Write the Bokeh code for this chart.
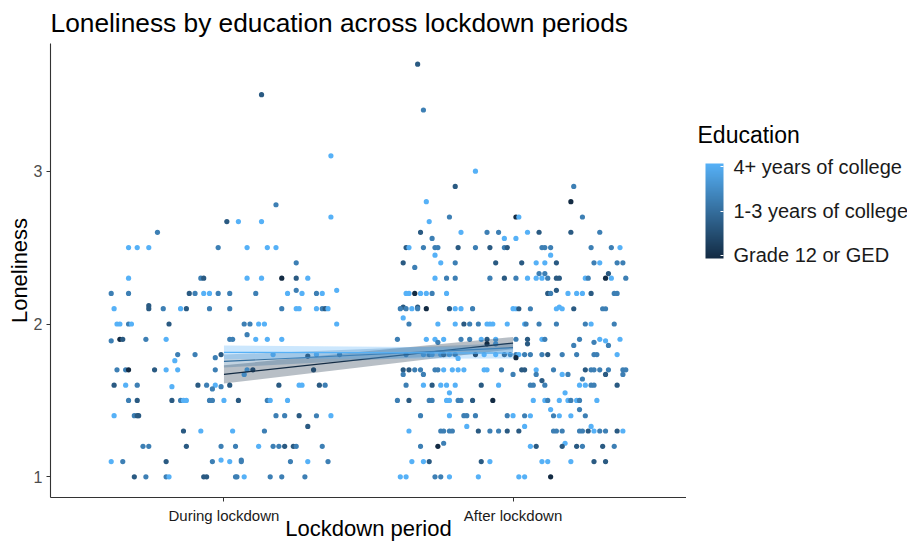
from bokeh.plotting import figure
from bokeh.layouts import row
from bokeh.models import LinearColorMapper, ColorBar, FixedTicker, ColumnDataSource, Label
from bokeh.transform import transform
from bokeh.embed import file_html
from bokeh.resources import INLINE

# ---------------- data ----------------
period_ticks = [1, 2]
period_labels = ["During lockdown", "After lockdown"]

edu_levels = [2, 3, 4]
edu_labels = ["Grade 12 or GED", "1-3 years of college", "4+ years of college"]
# education value of each point shade
shade_value = {"D": 2.0, "K": 2.7, "M": 3.25, "L": 4.0}

# (jittered period position, loneliness, education shade)
during_points = [
    (1.13, 3.50, "K"), (1.37, 3.10, "L"), (1.18, 2.78, "M"), (1.37, 2.70, "L"),
    (1.01, 2.67, "K"), (1.05, 2.67, "L"), (1.13, 2.67, "L"), (0.77, 2.60, "M"),
    (0.67, 2.5, "L"), (0.70, 2.5, "L"), (0.74, 2.5, "L"), (0.98, 2.5, "M"), (1.08, 2.5, "L"), (1.15, 2.5, "L"), (1.18, 2.5, "L"),
    (1.25, 2.4, "M"),
    (0.67, 2.3, "L"), (0.92, 2.3, "M"), (0.93, 2.3, "K"), (1.08, 2.3, "L"), (1.13, 2.3, "L"), (1.20, 2.3, "D"), (1.25, 2.3, "K"), (1.29, 2.3, "L"),
    (1.25, 2.22, "M"), (1.39, 2.22, "L"),
    (0.61, 2.2, "M"), (0.67, 2.2, "M"), (0.88, 2.2, "K"), (0.90, 2.2, "M"), (0.93, 2.2, "L"), (0.95, 2.2, "L"), (0.98, 2.2, "M"),
    (1.02, 2.2, "M"), (1.11, 2.2, "M"), (1.22, 2.2, "L"), (1.27, 2.2, "L"), (1.32, 2.2, "M"), (1.34, 2.2, "L"),
    (0.74, 2.12, "K"),
    (0.62, 2.1, "L"), (0.74, 2.1, "K"), (0.79, 2.1, "M"), (0.85, 2.1, "L"), (0.87, 2.1, "K"), (0.95, 2.1, "M"), (1.02, 2.1, "M"),
    (1.20, 2.1, "M"), (1.25, 2.1, "L"), (1.26, 2.1, "L"), (1.32, 2.1, "L"), (1.34, 2.1, "M"), (1.35, 2.1, "K"), (1.36, 2.1, "L"),
    (0.63, 2.0, "L"), (0.64, 2.0, "L"), (0.67, 2.0, "M"), (0.68, 2.0, "L"), (0.81, 2.0, "K"), (1.07, 2.0, "M"), (1.09, 2.0, "M"),
    (1.12, 2.0, "L"), (1.14, 2.0, "L"), (1.39, 2.0, "L"),
    (1.08, 1.93, "M"),
    (0.64, 1.9, "D"), (0.65, 1.9, "K"), (0.73, 1.9, "M"), (0.80, 1.9, "L"), (1.02, 1.9, "M"), (1.03, 1.9, "M"), (1.11, 1.9, "L"),
    (1.15, 1.9, "L"), (1.20, 1.9, "L"),
    (0.61, 1.89, "M"),
    (0.84, 1.8, "M"), (0.90, 1.8, "M"), (0.99, 1.8, "K"), (1.17, 1.8, "L"), (1.32, 1.8, "L"), (1.40, 1.8, "M"),
    (1.29, 1.79, "D"), (0.97, 1.78, "M"), (0.83, 1.76, "L"),
    (0.63, 1.7, "M"), (0.66, 1.7, "M"), (0.67, 1.7, "D"), (0.76, 1.7, "K"), (0.80, 1.7, "L"), (0.84, 1.7, "L"), (0.97, 1.7, "M"),
    (1.08, 1.7, "L"), (1.10, 1.7, "K"), (1.31, 1.7, "K"),
    (1.07, 1.67, "L"),
    (0.62, 1.6, "K"), (0.66, 1.6, "L"), (0.70, 1.6, "M"), (0.91, 1.6, "K"), (0.94, 1.6, "M"), (0.97, 1.6, "L"), (1.02, 1.6, "K"),
    (1.19, 1.6, "K"), (1.26, 1.6, "L"), (1.27, 1.6, "L"), (1.33, 1.6, "K"), (1.35, 1.6, "M"),
    (0.82, 1.59, "L"), (0.99, 1.59, "M"), (0.96, 1.575, "M"),
    (0.67, 1.5, "M"), (0.70, 1.5, "K"), (0.82, 1.5, "K"), (0.85, 1.5, "M"), (0.86, 1.5, "L"), (0.87, 1.5, "L"), (0.95, 1.5, "M"),
    (0.96, 1.5, "M"), (1.00, 1.5, "L"), (1.05, 1.5, "K"), (1.15, 1.5, "M"), (1.16, 1.5, "L"), (1.22, 1.5, "L"),
    (0.62, 1.4, "L"), (0.69, 1.4, "M"), (0.70, 1.4, "K"), (0.705, 1.4, "K"), (1.18, 1.4, "M"), (1.21, 1.4, "M"), (1.26, 1.4, "K"),
    (1.32, 1.4, "M"), (1.37, 1.4, "L"),
    (1.29, 1.33, "K"),
    (0.86, 1.3, "K"), (0.92, 1.3, "L"), (1.03, 1.3, "L"), (1.14, 1.3, "M"),
    (0.72, 1.2, "M"), (0.74, 1.2, "M"), (0.87, 1.2, "K"), (0.99, 1.2, "M"), (1.04, 1.2, "M"), (1.12, 1.2, "L"), (1.17, 1.2, "M"),
    (1.19, 1.2, "M"), (1.21, 1.2, "K"), (1.24, 1.2, "K"), (1.25, 1.2, "M"), (1.34, 1.2, "M"),
    (0.99, 1.11, "L"), (1.06, 1.11, "M"),
    (0.61, 1.1, "L"), (0.65, 1.1, "M"), (0.80, 1.1, "K"), (0.96, 1.1, "M"), (1.02, 1.1, "L"), (1.06, 1.1, "M"), (1.23, 1.1, "M"),
    (1.29, 1.1, "L"), (1.36, 1.1, "M"),
    (0.69, 1.0, "K"), (0.73, 1.0, "M"), (0.80, 1.0, "M"), (0.81, 1.0, "L"), (0.93, 1.0, "K"), (0.94, 1.0, "K"), (1.04, 1.0, "M"),
    (1.045, 1.0, "M"), (1.07, 1.0, "L"), (1.16, 1.0, "M"), (1.20, 1.0, "M"), (1.28, 1.0, "M"),
]

after_points = [
    (1.67, 3.70, "K"), (1.69, 3.40, "M"), (1.87, 3.00, "L"), (1.80, 2.90, "K"), (2.21, 2.90, "M"),
    (1.70, 2.80, "L"), (2.20, 2.80, "D"),
    (1.78, 2.70, "M"), (2.01, 2.70, "D"), (2.02, 2.70, "L"), (2.24, 2.70, "M"), (1.71, 2.67, "L"),
    (1.68, 2.6, "K"), (1.82, 2.6, "L"), (1.91, 2.6, "M"), (1.95, 2.6, "M"), (2.05, 2.6, "L"), (2.09, 2.6, "K"), (2.20, 2.6, "K"), (2.30, 2.6, "M"),
    (1.72, 2.56, "M"), (1.97, 2.56, "L"), (2.01, 2.56, "L"),
    (1.63, 2.5, "K"), (1.64, 2.5, "L"), (1.69, 2.5, "M"), (1.73, 2.5, "M"), (1.74, 2.5, "M"), (1.81, 2.5, "K"), (1.87, 2.5, "M"),
    (1.92, 2.5, "K"), (1.97, 2.5, "M"), (1.98, 2.5, "K"), (2.10, 2.5, "M"), (2.11, 2.5, "M"), (2.13, 2.5, "M"), (2.27, 2.5, "M"),
    (2.34, 2.5, "M"), (2.37, 2.5, "L"),
    (1.73, 2.45, "L"), (2.13, 2.45, "L"),
    (1.62, 2.4, "K"), (1.75, 2.4, "L"), (1.80, 2.4, "M"), (1.94, 2.4, "K"), (2.03, 2.4, "K"), (2.08, 2.4, "L"), (2.11, 2.4, "L"),
    (2.15, 2.4, "K"), (2.28, 2.4, "M"), (2.30, 2.4, "L"), (2.36, 2.4, "M"), (2.38, 2.4, "M"),
    (1.66, 2.37, "M"), (2.09, 2.33, "M"), (2.11, 2.33, "M"), (2.33, 2.33, "K"),
    (1.73, 2.3, "L"), (1.77, 2.3, "M"), (1.80, 2.3, "M"), (1.92, 2.3, "M"), (1.97, 2.3, "K"), (2.01, 2.3, "M"), (2.05, 2.3, "L"),
    (2.08, 2.3, "L"), (2.10, 2.3, "L"), (2.12, 2.3, "M"), (2.15, 2.3, "K"), (2.16, 2.3, "K"), (2.25, 2.3, "L"), (2.26, 2.3, "M"),
    (2.32, 2.3, "D"), (2.34, 2.3, "L"), (2.39, 2.3, "M"),
    (2.15, 2.22, "K"),
    (1.63, 2.2, "L"), (1.64, 2.2, "L"), (1.66, 2.2, "D"), (1.68, 2.2, "L"), (1.70, 2.2, "L"), (1.72, 2.2, "M"), (1.77, 2.2, "L"),
    (2.12, 2.2, "K"), (2.13, 2.2, "M"), (2.19, 2.2, "L"), (2.22, 2.2, "L"), (2.24, 2.2, "L"), (2.27, 2.2, "K"), (2.35, 2.2, "M"), (2.36, 2.2, "M"),
    (1.62, 2.11, "K"), (1.67, 2.11, "K"), (2.16, 2.11, "L"),
    (1.61, 2.1, "M"), (1.63, 2.1, "M"), (1.65, 2.1, "L"), (1.67, 2.1, "M"), (1.70, 2.1, "D"), (1.78, 2.1, "K"), (1.80, 2.1, "L"),
    (1.82, 2.1, "L"), (1.86, 2.1, "M"), (2.00, 2.1, "L"), (2.01, 2.1, "L"), (2.02, 2.1, "K"), (2.06, 2.1, "M"), (2.15, 2.1, "L"),
    (2.17, 2.1, "L"), (2.21, 2.1, "K"), (2.31, 2.1, "M"), (2.32, 2.1, "M"),
    (1.62, 2.04, "L"),
    (1.64, 2.0, "M"), (1.74, 2.0, "L"), (1.80, 2.0, "L"), (1.83, 2.0, "K"), (1.85, 2.0, "M"), (1.88, 2.0, "M"), (1.91, 2.0, "L"),
    (1.92, 2.0, "L"), (1.93, 2.0, "L"), (1.98, 2.0, "L"), (2.04, 2.0, "L"), (2.045, 2.0, "M"), (2.09, 2.0, "M"), (2.15, 2.0, "M"),
    (2.25, 2.0, "M"), (2.27, 2.0, "L"), (2.35, 2.0, "M"),
    (1.60, 1.9, "M"), (1.70, 1.9, "L"), (1.73, 1.9, "L"), (1.76, 1.9, "L"), (1.82, 1.9, "M"), (1.85, 1.9, "M"), (1.89, 1.9, "L"),
    (1.91, 1.9, "K"), (1.94, 1.9, "L"), (2.01, 1.9, "M"), (2.05, 1.9, "K"), (2.10, 1.9, "L"), (2.11, 1.9, "M"), (2.23, 1.9, "M"),
    (2.30, 1.9, "L"), (2.37, 1.9, "L"),
    (1.74, 1.88, "M"), (2.28, 1.88, "M"), (2.32, 1.89, "L"), (1.91, 1.87, "D"), (1.94, 1.87, "L"), (2.05, 1.87, "K"),
    (2.21, 1.86, "M"), (2.33, 1.86, "M"),
    (1.63, 1.8, "M"), (1.69, 1.8, "L"), (1.71, 1.8, "M"), (1.72, 1.8, "L"), (1.75, 1.8, "L"), (1.76, 1.8, "K"), (1.78, 1.8, "L"),
    (1.80, 1.8, "M"), (1.87, 1.8, "D"), (1.90, 1.8, "L"), (1.94, 1.8, "L"), (1.97, 1.8, "K"), (1.99, 1.8, "M"), (2.01, 1.8, "M"),
    (2.02, 1.8, "L"), (2.04, 1.8, "M"), (2.06, 1.8, "M"), (2.10, 1.8, "M"), (2.12, 1.8, "K"), (2.17, 1.8, "M"), (2.22, 1.8, "M"),
    (2.28, 1.8, "M"), (2.29, 1.8, "M"), (2.36, 1.8, "L"),
    (2.01, 1.78, "D"), (1.81, 1.775, "L"),
    (1.62, 1.7, "K"), (1.64, 1.7, "K"), (1.66, 1.7, "M"), (1.68, 1.7, "M"), (1.73, 1.7, "M"), (1.74, 1.7, "M"), (1.76, 1.7, "L"),
    (1.79, 1.7, "L"), (1.81, 1.7, "L"), (1.83, 1.7, "L"), (1.90, 1.7, "L"), (1.91, 1.7, "L"), (1.96, 1.7, "M"), (2.03, 1.7, "K"),
    (2.04, 1.7, "K"), (2.08, 1.7, "L"), (2.14, 1.7, "M"), (2.25, 1.7, "K"), (2.27, 1.7, "M"), (2.28, 1.7, "M"), (2.30, 1.7, "M"),
    (2.33, 1.7, "M"), (2.38, 1.7, "M"), (2.39, 1.7, "M"),
    (1.62, 1.67, "M"), (1.69, 1.67, "M"), (2.00, 1.67, "M"), (2.08, 1.67, "M"), (2.17, 1.67, "L"), (2.19, 1.67, "M"),
    (2.32, 1.67, "K"), (2.38, 1.67, "M"), (2.24, 1.64, "M"), (2.10, 1.63, "K"),
    (1.63, 1.6, "M"), (1.69, 1.6, "L"), (1.72, 1.6, "K"), (1.75, 1.6, "L"), (1.77, 1.6, "L"), (1.80, 1.6, "L"), (1.89, 1.6, "K"),
    (1.95, 1.6, "L"), (2.06, 1.6, "M"), (2.07, 1.6, "M"), (2.11, 1.6, "M"), (2.23, 1.6, "L"), (2.25, 1.6, "L"), (2.27, 1.6, "M"),
    (2.28, 1.6, "M"), (2.36, 1.6, "K"),
    (1.78, 1.55, "L"), (2.18, 1.55, "L"),
    (1.60, 1.5, "M"), (1.64, 1.5, "K"), (1.71, 1.5, "M"), (1.72, 1.5, "M"), (1.77, 1.5, "L"), (1.78, 1.5, "L"), (1.81, 1.5, "M"),
    (1.82, 1.5, "M"), (1.86, 1.5, "K"), (1.93, 1.5, "D"), (2.07, 1.5, "L"), (2.11, 1.5, "L"), (2.12, 1.5, "M"), (2.16, 1.5, "L"),
    (2.19, 1.5, "L"), (2.20, 1.5, "M"), (2.22, 1.5, "L"), (2.23, 1.5, "M"), (2.29, 1.5, "L"),
    (2.13, 1.44, "L"), (2.23, 1.44, "M"),
    (1.68, 1.4, "M"), (1.78, 1.4, "L"), (1.83, 1.4, "M"), (1.84, 1.4, "M"), (1.87, 1.4, "M"), (1.98, 1.4, "M"), (2.00, 1.4, "L"),
    (2.04, 1.4, "M"), (2.06, 1.4, "L"), (2.14, 1.4, "M"), (2.16, 1.4, "L"), (2.20, 1.4, "L"), (2.25, 1.4, "M"),
    (1.84, 1.33, "L"), (2.04, 1.33, "L"), (2.27, 1.33, "L"),
    (1.64, 1.3, "L"), (1.75, 1.3, "M"), (1.76, 1.3, "M"), (1.78, 1.3, "M"), (1.79, 1.3, "M"), (1.88, 1.3, "K"), (1.92, 1.3, "M"),
    (1.95, 1.3, "M"), (1.98, 1.3, "K"), (2.02, 1.3, "K"), (2.14, 1.3, "M"), (2.15, 1.3, "M"), (2.17, 1.3, "M"), (2.23, 1.3, "M"),
    (2.24, 1.3, "M"), (2.26, 1.3, "K"), (2.28, 1.3, "L"), (2.30, 1.3, "M"), (2.32, 1.3, "M"), (2.36, 1.3, "K"), (2.38, 1.3, "L"),
    (1.76, 1.22, "M"), (2.18, 1.22, "L"),
    (1.68, 1.2, "M"), (1.74, 1.2, "D"), (2.06, 1.2, "L"), (2.08, 1.2, "K"), (2.17, 1.2, "K"), (2.22, 1.2, "K"), (2.24, 1.2, "M"),
    (2.31, 1.2, "K"), (2.35, 1.2, "M"),
    (1.65, 1.1, "L"), (1.69, 1.1, "L"), (1.71, 1.1, "K"), (1.89, 1.1, "K"), (1.92, 1.1, "L"), (2.10, 1.1, "L"), (2.12, 1.1, "L"),
    (2.20, 1.1, "L"), (2.28, 1.1, "K"), (2.32, 1.1, "K"),
    (1.61, 1.0, "L"), (1.63, 1.0, "L"), (1.73, 1.0, "M"), (1.75, 1.0, "M"), (1.78, 1.0, "L"), (1.88, 1.0, "L"), (2.02, 1.0, "L"),
    (2.04, 1.0, "L"), (2.13, 1.0, "D"),
]

# linear fits by education group (at During = 1, After = 2)
fit_x = [1, 2]
grade12_fit = [1.67, 1.875]
grade12_lo = [1.61, 1.835]
grade12_hi = [1.73, 1.915]
college13_fit = [1.755, 1.845]
college13_lo = [1.715, 1.815]
college13_hi = [1.80, 1.875]
college4_fit = [1.815, 1.81]
college4_lo = [1.77, 1.775]
college4_hi = [1.86, 1.845]

legend_title = "Education"

# ---------------- styling helpers ----------------
FONT = "Liberation Sans"
LOW_RGB = (0x13, 0x2B, 0x43)
HIGH_RGB = (0x56, 0xB1, 0xF7)
X_RANGE = (0.4, 2.6)
Y_RANGE = (0.865, 3.835)
MAIN_W, LEG_W, H = 686, 221, 543
FRAME_TOP, FRAME_BOTTOM = 43, 497


def grad(t):
    t = min(max(t, 0.0), 1.0)
    r = round(LOW_RGB[0] + (HIGH_RGB[0] - LOW_RGB[0]) * t)
    g = round(LOW_RGB[1] + (HIGH_RGB[1] - LOW_RGB[1]) * t)
    b = round(LOW_RGB[2] + (HIGH_RGB[2] - LOW_RGB[2]) * t)
    return "#%02x%02x%02x" % (r, g, b)


palette = [grad(i / 255) for i in range(256)]
edu_low, edu_high = edu_levels[0], edu_levels[-1]
mapper = LinearColorMapper(palette=palette, low=edu_low, high=edu_high)
# colour bar drawn a touch past the end breaks, like ggplot's guide
bar_mapper = LinearColorMapper(palette=palette, low=edu_low - 0.07, high=edu_high + 0.07)


def edu_color(v):
    return grad((v - edu_low) / (edu_high - edu_low))


pts = during_points + after_points
src = ColumnDataSource(dict(
    x=[q[0] for q in pts],
    y=[q[1] for q in pts],
    edu=[shade_value[q[2]] for q in pts],
))

# ---------------- main panel ----------------
p = figure(width=MAIN_W, height=H, x_range=X_RANGE, y_range=Y_RANGE,
           output_backend="svg", toolbar_location=None,
           min_border_left=50, min_border_right=0, min_border_top=FRAME_TOP, min_border_bottom=10)

p.title.text = "Loneliness by education across lockdown periods"
p.title.text_font = FONT
p.title.text_font_size = "26.3px"
p.title.text_font_style = "normal"
p.title.text_color = "#000000"
p.title.align = "left"
p.title.standoff = 11

p.scatter("x", "y", source=src, size=5.2, fill_color=transform("edu", mapper), line_color=None)

groups = [
    (edu_levels[0], grade12_fit, grade12_lo, grade12_hi),
    (edu_levels[1], college13_fit, college13_lo, college13_hi),
    (edu_levels[2], college4_fit, college4_lo, college4_hi),
]
for lvl, fit, lo, hi in groups:
    c = edu_color(lvl)
    p.varea(x=fit_x, y1=lo, y2=hi, fill_color=c, fill_alpha=0.3)
    p.line(x=fit_x, y=fit, line_color=c, line_width=1.2)

p.xgrid.grid_line_color = None
p.ygrid.grid_line_color = None
p.outline_line_color = None
p.background_fill_color = "white"

p.xaxis.ticker = FixedTicker(ticks=period_ticks)
p.xaxis.major_label_overrides = {t: l for t, l in zip(period_ticks, period_labels)}
p.yaxis.ticker = FixedTicker(ticks=[1, 2, 3])
p.xaxis.axis_label = "Lockdown period"
p.yaxis.axis_label = "Loneliness"
for ax in (p.xaxis[0], p.yaxis[0]):
    ax.axis_line_color = "#333333"
    ax.axis_line_width = 1.1
    ax.major_tick_line_color = "#333333"
    ax.major_tick_out = 4
    ax.major_tick_in = 0
    ax.minor_tick_line_color = None
    ax.axis_label_text_font = FONT
    ax.axis_label_text_font_size = "22px"
    ax.axis_label_text_font_style = "normal"
    ax.axis_label_text_color = "#000000"
    ax.major_label_text_font = FONT
p.xaxis.major_label_text_font_size = "15px"
p.xaxis.major_label_text_color = "#1a1a1a"
p.xaxis.major_label_standoff = 5
p.xaxis.axis_label_standoff = -11
p.yaxis.major_label_text_font_size = "16px"
p.yaxis.major_label_text_color = "#4d4d4d"
p.yaxis.major_label_standoff = 4
p.yaxis.axis_label_standoff = -1

# ---------------- legend panel (1 unit = 1 px; its frame lines up with the main frame) ----------------
frame_h = FRAME_BOTTOM - FRAME_TOP
leg = figure(width=LEG_W, height=H, x_range=(0, LEG_W), y_range=(0, frame_h),
             output_backend="svg", toolbar_location=None,
             x_axis_location=None, y_axis_location=None,
             min_border_left=0, min_border_right=0, min_border_top=FRAME_TOP, min_border_bottom=H - FRAME_BOTTOM)
leg.grid.visible = False
leg.outline_line_color = None

leg.add_layout(Label(x=11, y=FRAME_BOTTOM - 134, text=legend_title, text_font=FONT, text_font_size="23px",
                     text_color="#000000", text_baseline="middle", text_align="left"))

cb = ColorBar(
    color_mapper=bar_mapper,
    ticker=FixedTicker(ticks=edu_levels),
    major_label_overrides={lvl: lab for lvl, lab in zip(edu_levels, edu_labels)},
    width=18, height=95,
    major_label_text_font=FONT, major_label_text_font_size="20px", major_label_text_color="#1a1a1a",
    label_standoff=10, major_tick_line_color="white", major_tick_in=3, major_tick_out=0,
    bar_line_color=None, border_line_color=None, background_fill_color=None,
    padding=0, margin=0, location=(19, FRAME_BOTTOM - 258),
)
leg.add_layout(cb, "center")

layout = row(p, leg, spacing=0)
open("out.html", "w").write(file_html(layout, INLINE))
